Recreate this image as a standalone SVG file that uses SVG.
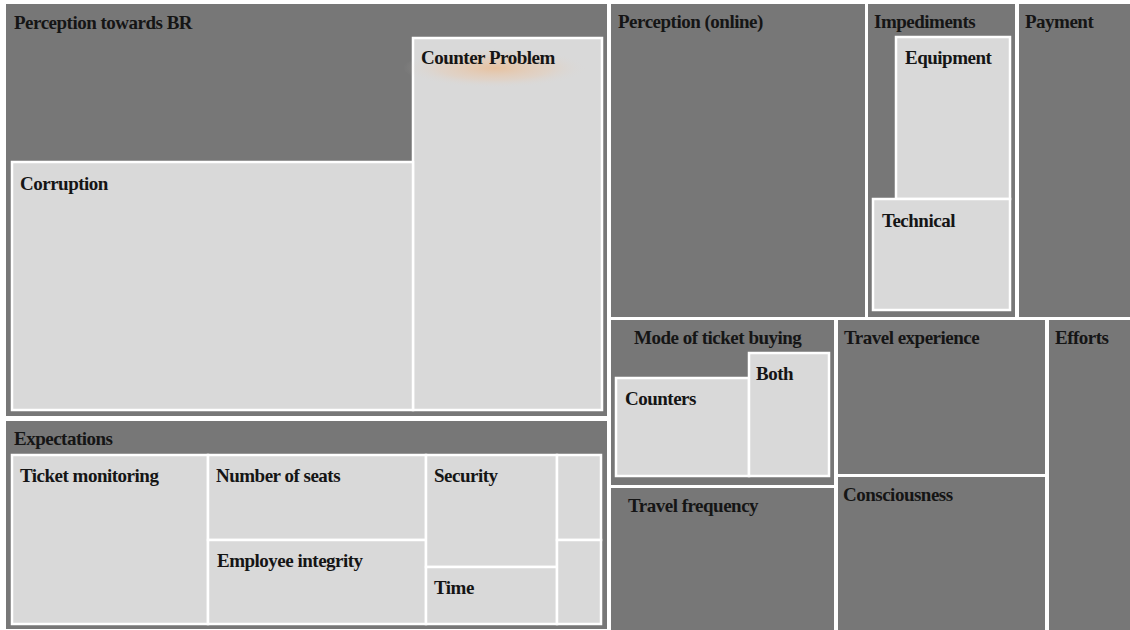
<svg xmlns="http://www.w3.org/2000/svg" width="1130" height="630" viewBox="0 0 1130 630">
<defs>
<style>
.outer{fill:#777777;stroke:none}
.inner{fill:#d9d9d9;stroke:#ffffff;stroke-width:2.5}
.lbl{font-family:"Liberation Serif","Times New Roman",serif;font-weight:bold;font-size:19px;letter-spacing:-0.5px;fill:#151515}
</style>
<radialGradient id="glow" cx="0.5" cy="0.5" r="0.5">
<stop offset="0" stop-color="#f0b27a" stop-opacity="0.6"/>
<stop offset="0.6" stop-color="#eec4a0" stop-opacity="0.3"/>
<stop offset="1" stop-color="#d9d9d9" stop-opacity="0"/>
</radialGradient>
</defs>
<rect width="1130" height="630" fill="#ffffff"/>
<g id="perception-towards-br">
<rect class="outer" x="6" y="4" width="601" height="412"/>
<text class="lbl" x="14" y="29">Perception towards BR</text>
<g id="counter-problem">
<rect class="inner" x="413" y="38" width="189" height="372"/>
<ellipse cx="495" cy="68" rx="92" ry="20" fill="url(#glow)"/>
<text class="lbl" x="421" y="64">Counter Problem</text>
</g>
<g id="corruption">
<rect class="inner" x="12" y="162" width="401" height="248"/>
<text class="lbl" x="20" y="190">Corruption</text>
</g>
</g>
<g id="expectations">
<rect class="outer" x="6" y="421" width="601" height="208"/>
<text class="lbl" x="14" y="445">Expectations</text>
<g id="ticket-monitoring">
<rect class="inner" x="12" y="455" width="196" height="169"/>
<text class="lbl" x="20" y="482">Ticket monitoring</text>
</g>
<g id="number-of-seats">
<rect class="inner" x="208" y="455" width="218" height="85"/>
<text class="lbl" x="216" y="482">Number of seats</text>
</g>
<g id="employee-integrity">
<rect class="inner" x="208" y="540" width="218" height="84"/>
<text class="lbl" x="217" y="567">Employee integrity</text>
</g>
<g id="security">
<rect class="inner" x="426" y="455" width="131" height="112"/>
<text class="lbl" x="434" y="482">Security</text>
</g>
<g id="time">
<rect class="inner" x="426" y="567" width="131" height="57"/>
<text class="lbl" x="434" y="594">Time</text>
</g>
<g id="blank-1">
<rect class="inner" x="557" y="455" width="44" height="85"/>
</g>
<g id="blank-2">
<rect class="inner" x="557" y="540" width="44" height="84"/>
</g>
</g>
<g id="perception-online">
<rect class="outer" x="611" y="4" width="254" height="313"/>
<text class="lbl" x="618" y="28">Perception (online)</text>
</g>
<g id="impediments">
<rect class="outer" x="868" y="4" width="147" height="313"/>
<text class="lbl" x="874" y="28">Impediments</text>
<g id="equipment">
<rect class="inner" x="896" y="37" width="114" height="162"/>
<text class="lbl" x="905" y="64">Equipment</text>
</g>
<g id="technical">
<rect class="inner" x="873" y="199" width="137" height="111"/>
<text class="lbl" x="882" y="227">Technical</text>
</g>
</g>
<g id="payment">
<rect class="outer" x="1019" y="4" width="111" height="313"/>
<text class="lbl" x="1025" y="28">Payment</text>
</g>
<g id="mode-of-ticket-buying">
<rect class="outer" x="611" y="320" width="223" height="165"/>
<text class="lbl" x="634" y="344">Mode of ticket buying</text>
<g id="counters">
<rect class="inner" x="616" y="378" width="133" height="98"/>
<text class="lbl" x="625" y="405">Counters</text>
</g>
<g id="both">
<rect class="inner" x="749" y="353" width="80" height="123"/>
<text class="lbl" x="756" y="380">Both</text>
</g>
</g>
<g id="travel-frequency">
<rect class="outer" x="611" y="488" width="223" height="142"/>
<text class="lbl" x="628" y="512">Travel frequency</text>
</g>
<g id="travel-experience">
<rect class="outer" x="838" y="320" width="207" height="154"/>
<text class="lbl" x="844" y="344">Travel experience</text>
</g>
<g id="consciousness">
<rect class="outer" x="838" y="477" width="207" height="153"/>
<text class="lbl" x="843" y="501">Consciousness</text>
</g>
<g id="efforts">
<rect class="outer" x="1049" y="320" width="81" height="310"/>
<text class="lbl" x="1055" y="344">Efforts</text>
</g>
<g id="connectors"></g>
</svg>
